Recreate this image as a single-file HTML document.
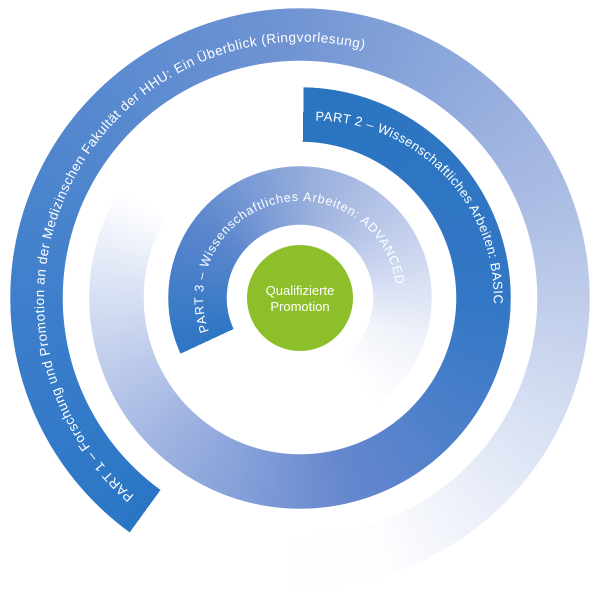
<!DOCTYPE html>
<html><head><meta charset="utf-8"><style>
body{margin:0;width:600px;height:600px;background:#fff;position:relative;overflow:hidden;font-family:"Liberation Sans",sans-serif}
.r{position:absolute;border-radius:50%}
</style></head><body>
<div class="r" style="left:10px;top:8px;width:580px;height:580px;
background:conic-gradient(from 216deg,#2a76c5 0deg,#3c7ecb 50deg,#6f93d3 140deg,#a9bbe3 210deg,#dbe3f4 265deg,#fdfdff 305deg,#fff 330deg,transparent 331deg);
-webkit-mask:radial-gradient(circle,transparent 237px,#000 237.5px,#000 289.5px,transparent 290px);
mask:radial-gradient(circle,transparent 237px,#000 237.5px,#000 289.5px,transparent 290px)"></div>
<div class="r" style="left:89px;top:87px;width:422px;height:422px;
background:conic-gradient(from 1deg,#2a74c0 0deg,#3277c5 90deg,#6587ce 165deg,#a2b5e2 225deg,#dde5f5 275deg,#fff 300deg,transparent 301deg);
-webkit-mask:radial-gradient(circle,transparent 156px,#000 156.5px,#000 210.5px,transparent 211px);
mask:radial-gradient(circle,transparent 156px,#000 156.5px,#000 210.5px,transparent 211px)"></div>
<div class="r" style="left:168px;top:166px;width:264px;height:264px;
background:conic-gradient(from 245deg,#2d76c3 0deg,#5a86cd 60deg,#98aedc 120deg,#c8d3ee 180deg,#f0f3fa 225deg,#fff 260deg,transparent 261deg);
-webkit-mask:radial-gradient(circle,transparent 73px,#000 73.5px,#000 131.5px,transparent 132px);
mask:radial-gradient(circle,transparent 73px,#000 73.5px,#000 131.5px,transparent 132px)"></div>
<div class="r" style="left:247px;top:245px;width:106px;height:106px;background:#8dbf2a"></div>
<svg width="600" height="600" style="position:absolute;left:0;top:0" font-family="Liberation Sans, sans-serif" fill="#fff">
<defs>
<path id="p1" d="M 134.2 495.6 A 258 258 0 1 1 560 300"/>
<path id="p2" d="M 315.4 120.7 A 178 178 0 1 1 300 476"/>
<path id="p3" d="M 208.9 331.2 A 97 97 0 1 1 397 298"/>
</defs>
<text font-size="13.5"><textPath href="#p1" textLength="690" lengthAdjust="spacing">PART 1 – Forschung und Promotion an der Medizinschen Fakultät der HHU: Ein Überblick (Ringvorlesung)</textPath></text>
<text font-size="13"><textPath href="#p2" textLength="285" lengthAdjust="spacing">PART 2 – Wissenschaftliches Arbeiten: BASIC</textPath></text>
<text font-size="12.5"><textPath href="#p3" textLength="325" lengthAdjust="spacing">PART 3 – Wissenschaftliches Arbeiten: ADVANCED</textPath></text>
<text x="300" y="295" font-size="13" text-anchor="middle">Qualifizierte</text>
<text x="300" y="311" font-size="13" text-anchor="middle">Promotion</text>
</svg>
</body></html>
